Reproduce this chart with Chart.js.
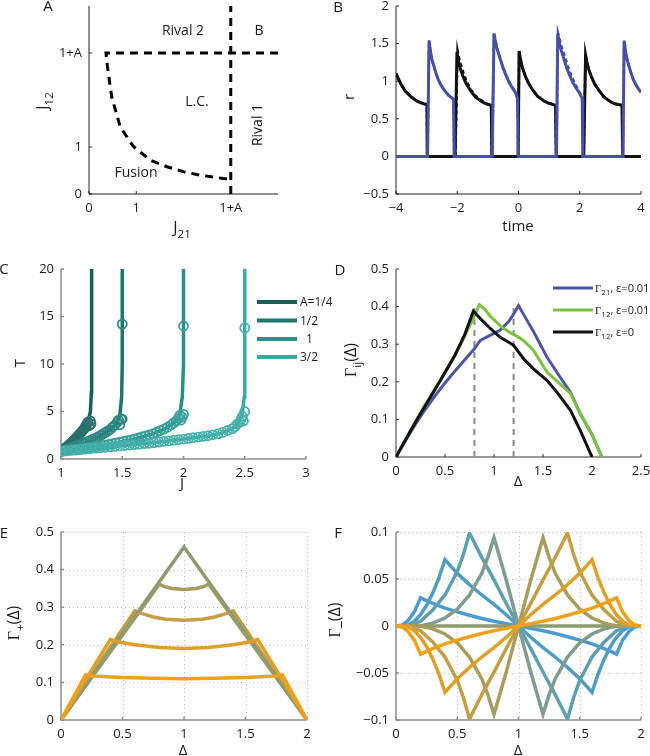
<!DOCTYPE html>
<html><head><meta charset="utf-8">
<script src="https://cdn.jsdelivr.net/npm/chart.js@4/dist/chart.umd.min.js"></script>
<style>
html,body{margin:0;padding:0;background:#fff;}
#wrap{position:relative;width:650px;height:756px;overflow:hidden;background:#fff;}
canvas{position:absolute;left:0;top:0;}
</style></head><body><div id="wrap">
<canvas id="cA" width="650" height="756"></canvas>
<canvas id="cB" width="650" height="756"></canvas>
<canvas id="cC" width="650" height="756"></canvas>
<canvas id="cD" width="650" height="756"></canvas>
<canvas id="cE" width="650" height="756"></canvas>
<canvas id="cF" width="650" height="756"></canvas>
</div>
<script>
// ================= DATA =================
// Panel A
const aTickVals = [0, 1, 3];
const aTickLabels = ['0', '1', '1+A'];
const aCurveJ21 = [4, 0.36, 0.39, 0.48, 0.66, 0.94, 1.30, 1.65, 2.01, 2.36, 2.84, 3.0];
const aCurveJ12 = [3, 3.0, 2.71, 2.07, 1.43, 1.01, 0.72, 0.58, 0.47, 0.40, 0.33, 0.32];
const aVertJ21 = [3, 3];
const aVertJ12 = [0, 4];
const aRegionNames = ['Rival 2', 'B', 'L.C.', 'Fusion', 'Rival 1'];

// Panel B
const bXTicks = [-4, -2, 0, 2, 4];
const bXLabels = ['\u22124', '\u22122', '0', '2', '4'];
const bYTicks = [-0.5, 0, 0.5, 1, 1.5, 2];
const bYLabels = ['\u22120.5', '0', '0.5', '1', '1.5', '2'];
const bBlackT = [-4,-3.85,-3.7,-3.5,-3.3,-3.1,-2.99,-2.98,
  -2.07,-2.01,-1.96,-1.91,-1.81,-1.71,-1.56,-1.41,-1.21,-1.06,-0.89,-0.87,
  -0.01,0.02,0.07,0.12,0.22,0.32,0.47,0.62,0.82,0.97,1.21,1.23,
  2.13,2.19,2.24,2.29,2.39,2.49,2.64,2.79,2.99,3.14,3.38,3.40,
  4.0];
const bBlackR = [1.10,0.97,0.87,0.79,0.73,0.70,0.69,0,
  0,1.39,1.27,1.18,1.06,0.97,0.87,0.79,0.73,0.70,0.68,0,
  0,1.40,1.28,1.19,1.07,0.98,0.88,0.80,0.74,0.71,0.68,0,
  0,1.35,1.24,1.16,1.05,0.96,0.87,0.79,0.73,0.70,0.68,0,
  0];
const bBlackDashT = [-4,-3.85,-3.7,-3.5,-3.3,-3.1,-2.99,-2.98,
  -2.06,-1.99,-1.94,-1.89,-1.79,-1.69,-1.54,-1.39,-1.19,-1.04,-0.89,-0.87,
  -0.01,0.02,0.07,0.12,0.22,0.32,0.47,0.62,0.82,0.97,1.21,1.23,
  2.13,2.19,2.24,2.29,2.39,2.49,2.64,2.79,2.99,3.14,3.38,3.40,
  4.0];
const bBlackDashR = [1.10,0.97,0.87,0.79,0.73,0.70,0.69,0,
  0,1.41,1.31,1.23,1.10,0.99,0.88,0.80,0.74,0.70,0.68,0,
  0,1.40,1.28,1.19,1.07,0.98,0.88,0.80,0.74,0.71,0.68,0,
  0,1.35,1.24,1.16,1.05,0.96,0.87,0.79,0.73,0.70,0.68,0,
  0];
const bBlueT = [-4,-2.97,-2.92,-2.87,-2.82,-2.72,-2.62,-2.52,-2.42,-2.29,-2.12,-2.10,
  -0.86,-0.80,-0.75,-0.70,-0.60,-0.50,-0.40,-0.30,-0.20,-0.10,-0.03,-0.01,
  1.24,1.28,1.33,1.38,1.48,1.58,1.68,1.78,1.88,1.98,2.08,2.10,
  3.41,3.45,3.50,3.55,3.65,3.75,3.85,3.95,4.0];
const bBlueR = [0,0,1.54,1.38,1.28,1.14,1.02,0.94,0.88,0.815,0.76,0,
  0,1.63,1.52,1.43,1.30,1.17,1.07,0.98,0.91,0.85,0.77,0,
  0,1.63,1.52,1.43,1.30,1.17,1.07,0.98,0.91,0.85,0.77,0,
  0,1.54,1.38,1.28,1.14,1.02,0.94,0.88,0.85];
const bBlueDashT = [-4,-2.97,-2.92,-2.87,-2.82,-2.72,-2.62,-2.52,-2.42,-2.29,-2.12,-2.10,
  -0.86,-0.80,-0.75,-0.70,-0.60,-0.50,-0.40,-0.30,-0.20,-0.10,-0.03,-0.01,
  1.24,1.29,1.35,1.41,1.52,1.62,1.72,1.82,1.92,2.00,2.08,2.10,
  3.41,3.45,3.50,3.55,3.65,3.75,3.85,3.95,4.0];
const bBlueDashR = [0,0,1.54,1.38,1.28,1.14,1.02,0.94,0.88,0.815,0.76,0,
  0,1.65,1.53,1.44,1.31,1.18,1.08,0.99,0.92,0.86,0.77,0,
  0,1.64,1.55,1.46,1.32,1.19,1.08,0.99,0.91,0.85,0.78,0,
  0,1.54,1.38,1.28,1.14,1.02,0.94,0.88,0.85];

// Panel C
const cXTicks = [1, 1.5, 2, 2.5, 3];
const cXLabels = ['1', '1.5', '2', '2.5', '3'];
const cYTicks = [0, 5, 10, 15, 20];
const cYLabels = ['0', '5', '10', '15', '20'];
const cSeriesNames = ['A=1/4', '1/2', '1', '3/2'];
const cJ1 = [1,1.05,1.1,1.15,1.19,1.22,1.24,1.248,1.25,1.25];
const cT1 = [0.8,1.3,1.9,2.6,3.2,3.9,5,7,10,20];
const cJ2 = [1,1.1,1.2,1.3,1.4,1.45,1.48,1.495,1.5,1.5];
const cT2 = [0.8,1.25,1.75,2.3,3.1,3.7,4.6,6.5,10,20];
const cJ3 = [1,1.2,1.4,1.6,1.75,1.85,1.93,1.97,1.99,2,2];
const cT3 = [0.8,1.15,1.55,2.1,2.65,3.2,3.9,4.8,6.5,10,20];
const cJ4 = [1,1.25,1.5,1.75,2.0,2.2,2.3,2.4,2.45,2.48,2.495,2.5,2.5];
const cT4 = [0.8,1.1,1.4,1.7,2.1,2.45,2.7,3.2,3.9,4.8,6.5,10,20];
const cSimJ1 = [1.00,1.01,1.02,1.03,1.04,1.05,1.06,1.07,1.08,1.09,1.10,1.11,1.12,1.13,1.14,1.15,1.16,1.17,1.18,1.19,1.20,1.21,1.22,1.23,1.24,1.245];
const cSimT1 = [0.80,0.90,1.00,1.10,1.20,1.30,1.42,1.54,1.66,1.78,1.90,2.04,2.18,2.32,2.46,2.60,2.75,2.90,3.05,3.20,3.43,3.66,3.90,3.5,4.0,3.7];
const cSimJ2 = [1.00,1.02,1.04,1.06,1.08,1.10,1.12,1.14,1.16,1.18,1.20,1.22,1.24,1.26,1.28,1.30,1.32,1.34,1.36,1.38,1.40,1.42,1.44,1.46,1.47,1.48,1.49,1.5,1.5];
const cSimT2 = [0.80,0.89,0.98,1.07,1.16,1.25,1.35,1.45,1.55,1.65,1.75,1.86,1.97,2.08,2.19,2.30,2.46,2.62,2.78,2.94,3.10,3.34,3.58,3.9,4.1,3.6,4.2,4.2,14.2];
const cSimJ3 = [1.00,1.03,1.06,1.09,1.12,1.15,1.18,1.21,1.24,1.27,1.30,1.33,1.36,1.39,1.42,1.45,1.48,1.51,1.54,1.57,1.60,1.63,1.66,1.69,1.72,1.75,1.78,1.81,1.84,1.87,1.90,1.92,1.94,1.96,1.97,1.98,1.99,2,2];
const cSimT3 = [0.80,0.85,0.90,0.96,1.01,1.06,1.12,1.17,1.23,1.29,1.35,1.41,1.47,1.53,1.61,1.69,1.77,1.85,1.93,2.02,2.10,2.21,2.32,2.43,2.54,2.65,2.82,2.98,3.15,3.35,3.60,3.8,4.0,4.3,4.6,4.1,4.4,4.7,14.0];
const cSimJ4 = [1.00,1.04,1.08,1.12,1.16,1.20,1.24,1.28,1.32,1.36,1.40,1.44,1.48,1.52,1.56,1.60,1.64,1.68,1.72,1.76,1.80,1.84,1.88,1.92,1.96,2.00,2.04,2.08,2.12,2.16,2.20,2.24,2.28,2.32,2.36,2.40,2.42,2.44,2.46,2.47,2.48,2.49,2.5,2.5];
const cSimT4 = [0.80,0.85,0.90,0.94,0.99,1.04,1.09,1.14,1.18,1.23,1.28,1.33,1.38,1.42,1.47,1.52,1.57,1.62,1.66,1.72,1.78,1.85,1.91,1.98,2.04,2.10,2.17,2.24,2.31,2.38,2.45,2.55,2.65,2.80,3.00,3.20,3.4,3.7,3.9,4.2,4.5,4.0,5.0,13.8];

// Panel D
const dXTicks = [0, 0.5, 1, 1.5, 2, 2.5];
const dXLabels = ['0', '0.5', '1', '1.5', '2', '2.5'];
const dYTicks = [0, 0.1, 0.2, 0.3, 0.4, 0.5];
const dYLabels = ['0', '0.1', '0.2', '0.3', '0.4', '0.5'];
const dBlueX = [0,0.1,0.2,0.3,0.4,0.5,0.6,0.7,0.8,0.86,0.95,1.06,1.15,1.2,1.25,1.3,1.4,1.54,1.65,1.78,1.88,2.0,2.1];
const dBlueY = [0,0.045,0.088,0.127,0.163,0.197,0.228,0.258,0.288,0.31,0.322,0.337,0.36,0.38,0.403,0.38,0.335,0.266,0.222,0.172,0.115,0.06,0];
const dGreenX = [0,0.1,0.2,0.3,0.4,0.5,0.6,0.7,0.8,0.85,0.9,0.96,1.06,1.15,1.25,1.3,1.4,1.54,1.65,1.78,1.88,2.0,2.1];
const dGreenY = [0,0.048,0.095,0.14,0.182,0.225,0.27,0.32,0.375,0.405,0.395,0.375,0.35,0.333,0.319,0.31,0.285,0.226,0.2,0.169,0.115,0.06,0];
const dBlackX = [0,0.1,0.2,0.3,0.4,0.5,0.6,0.7,0.79,0.86,0.95,1.06,1.15,1.2,1.3,1.4,1.54,1.65,1.78,1.88,2.0];
const dBlackY = [0,0.047,0.093,0.137,0.18,0.225,0.27,0.325,0.388,0.368,0.345,0.319,0.305,0.297,0.262,0.235,0.204,0.17,0.124,0.071,0];
const dMarkX = [0.8, 1.2];
const dMarkTop = 0.4;
const dSeriesNames = [['21', ', \u03b5=0.01'], ['12', ', \u03b5=0.01'], ['12', ', \u03b5=0']];

// Panel E
const eXTicks = [0, 0.5, 1, 1.5, 2];
const eXLabels = ['0', '0.5', '1', '1.5', '2'];
const eYTicks = [0, 0.1, 0.2, 0.3, 0.4, 0.5];
const eYLabels = ['0', '0.1', '0.2', '0.3', '0.4', '0.5'];
const eX1 = [0,1,2];
const eY1 = [0,0.46,0];
const eX2 = [0,0.8,0.84,0.9,1.0,1.1,1.16,1.2,2];
const eY2 = [0,0.361,0.355,0.35,0.347,0.35,0.355,0.361,0];
const eX3 = [0,0.6,0.66,0.75,0.85,1.0,1.15,1.25,1.34,1.4,2];
const eY3 = [0,0.29,0.283,0.274,0.268,0.265,0.268,0.274,0.283,0.29,0];
const eX4 = [0,0.4,0.46,0.6,0.8,1.0,1.2,1.4,1.54,1.6,2];
const eY4 = [0,0.214,0.208,0.2,0.193,0.19,0.193,0.2,0.208,0.214,0];
const eX5 = [0,0.2,0.26,0.5,0.75,1.0,1.25,1.5,1.74,1.8,2];
const eY5 = [0,0.12,0.117,0.113,0.111,0.11,0.111,0.113,0.117,0.12,0];

// Panel F
const fXTicks = [0, 0.5, 1, 1.5, 2];
const fXLabels = ['0', '0.5', '1', '1.5', '2'];
const fYTicks = [-0.1, -0.05, 0, 0.05, 0.1];
const fYLabels = ['\u22120.1', '\u22120.05', '0', '0.05', '0.1'];
const fX1 = [0,0.05,0.1,0.15,0.2,0.3,0.4,0.5,0.6,0.7,0.8,0.9,1.0,1.1,1.2,1.3,1.4,1.5,1.6,1.7,1.8,1.85,1.9,1.95,2];
const fY1 = [0,0.001,0.006,0.015,0.03,0.024,0.019,0.015,0.0114,0.008,0.005,0.0025,0,-0.0025,-0.005,-0.008,-0.0114,-0.015,-0.019,-0.024,-0.03,-0.015,-0.006,-0.001,0];
const fX2 = [0,0.1,0.15,0.2,0.25,0.3,0.35,0.4,0.5,0.6,0.7,0.8,0.9,1.0,1.1,1.2,1.3,1.4,1.5,1.6,1.65,1.7,1.75,1.8,1.85,1.9,2];
const fY2 = [0,0.001,0.005,0.012,0.022,0.035,0.051,0.0705,0.056,0.044,0.033,0.023,0.012,0,-0.012,-0.023,-0.033,-0.044,-0.056,-0.0705,-0.051,-0.035,-0.022,-0.012,-0.005,-0.001,0];
const fX3 = [0,0.1,0.2,0.3,0.4,0.5,0.55,0.6,0.7,0.8,0.9,1.0,1.1,1.2,1.3,1.4,1.45,1.5,1.6,1.7,1.8,1.9,2];
const fY3 = [0,0,0.005,0.017,0.033,0.058,0.076,0.099,0.073,0.049,0.024,0,-0.024,-0.049,-0.073,-0.099,-0.076,-0.058,-0.033,-0.017,-0.005,0,0];
const fX4 = [0,0.2,0.3,0.4,0.5,0.6,0.7,0.75,0.8,0.9,1.0,1.1,1.2,1.25,1.3,1.4,1.5,1.6,1.7,1.8,2];
const fY4 = [0,0,0.003,0.0085,0.018,0.033,0.056,0.073,0.094,0.049,0,-0.049,-0.094,-0.073,-0.056,-0.033,-0.018,-0.0085,-0.003,0,0];
const fX5 = [0,2];
const fY5 = [0,0];
const fY6 = [0,0,-0.003,-0.0085,-0.018,-0.033,-0.056,-0.073,-0.094,-0.049,0,0.049,0.094,0.073,0.056,0.033,0.018,0.0085,0.003,0,0];
const fY7 = [0,0,-0.005,-0.017,-0.033,-0.058,-0.076,-0.099,-0.073,-0.049,-0.024,0,0.024,0.049,0.073,0.099,0.076,0.058,0.033,0.017,0.005,0,0];
const fY8 = [0,-0.001,-0.005,-0.012,-0.022,-0.035,-0.051,-0.0705,-0.056,-0.044,-0.033,-0.023,-0.012,0,0.012,0.023,0.033,0.044,0.056,0.0705,0.051,0.035,0.022,0.012,0.005,0.001,0];
const fY9 = [0,-0.001,-0.006,-0.015,-0.03,-0.024,-0.019,-0.015,-0.0114,-0.008,-0.005,-0.0025,0,0.0025,0.005,0.008,0.0114,0.015,0.019,0.024,0.03,0.015,0.006,0.001,0];

// ================= STYLE / LAYOUT =================
const SANS = "'Open Sans', 'DejaVu Sans', sans-serif";
const SERIF = "'Liberation Serif', 'DejaVu Serif', serif";
const TXT = '#1a1a1a';
Chart.defaults.font.family = SANS;
Chart.defaults.font.size = 13;
Chart.defaults.color = TXT;
const YW = 50, XH = 30, PW = 650, PH = 756;

const bBlack = '#111111', bBlue = '#4650a8';
const cCols = ['#1b5d5a', '#1f7570', '#29908a', '#3aaba5'];
const cCircle = ['#2a716d', '#2e8782', '#3aa09a', '#47b1ab'];
const dBlue = '#4e56a8', dGreen = '#7cc242', dBlack = '#111111';
const famCols = ['#4a9bd1', '#4f9dc6', '#5e9fb2', '#7e9d8f', '#8e9b71', '#a99c5c', '#c49d44', '#dfa02b', '#efa11a'];

function pts(xs, ys) { return xs.map((x, i) => ({x: x, y: ys[i]})); }
function ln(xs, ys, color, extra) {
  return Object.assign({data: pts(xs, ys), showLine: true, borderColor: color, backgroundColor: color,
    borderWidth: 3, pointRadius: 0, fill: false, tension: 0}, extra || {});
}

function richText(ctx, parts, x, y, o) {
  o = o || {};
  const size = o.size || 14, rot = o.rot || 0, align = o.align || 'center';
  ctx.save();
  ctx.translate(x, y); ctx.rotate(rot);
  ctx.fillStyle = o.color || TXT;
  ctx.textBaseline = 'alphabetic'; ctx.textAlign = 'left';
  let w = 0;
  const items = parts.map(p => {
    const fs = p.sub ? size * 0.72 : size;
    const font = fs + 'px ' + (p.serif ? SERIF : SANS);
    ctx.font = font;
    const mw = ctx.measureText(p.t).width;
    const it = {t: p.t, font: font, off: w, dy: p.sub ? size * 0.32 : 0};
    w += mw;
    return it;
  });
  const x0 = align === 'center' ? -w / 2 : 0;
  const base = size * 0.36;
  items.forEach(it => { ctx.font = it.font; ctx.fillText(it.t, x0 + it.off, base + it.dy); });
  ctx.restore();
}

function deco(d) {
  return {
    id: 'deco',
    beforeDatasetsDraw(chart) {
      const ctx = chart.ctx, a = chart.chartArea, sx = chart.scales.x, sy = chart.scales.y;
      ctx.save();
      if (d.grid) {
        ctx.strokeStyle = '#bdbdbd'; ctx.lineWidth = 1; ctx.setLineDash([1, 3]);
        sx.ticks.forEach(t => { if (t.value === sx.min) return; const p = Math.round(sx.getPixelForValue(t.value)) + 0.5;
          ctx.beginPath(); ctx.moveTo(p, a.top); ctx.lineTo(p, a.bottom); ctx.stroke(); });
        sy.ticks.forEach(t => { if (t.value === sy.min) return; const p = Math.round(sy.getPixelForValue(t.value)) + 0.5;
          ctx.beginPath(); ctx.moveTo(a.left, p); ctx.lineTo(a.right, p); ctx.stroke(); });
        ctx.setLineDash([]);
      }
      ctx.strokeStyle = d.axisColor; ctx.lineWidth = d.axisWidth || 1;
      ctx.beginPath(); ctx.moveTo(a.left, a.top); ctx.lineTo(a.left, a.bottom); ctx.lineTo(a.right, a.bottom); ctx.stroke();
      ctx.beginPath();
      sx.ticks.forEach(t => { const p = sx.getPixelForValue(t.value); ctx.moveTo(p, a.bottom); ctx.lineTo(p, a.bottom - 3); });
      sy.ticks.forEach(t => { const p = sy.getPixelForValue(t.value); ctx.moveTo(a.left, p); ctx.lineTo(a.left + 3, p); });
      ctx.stroke();
      ctx.restore();
    },
    afterDatasetsDraw(chart) {
      const ctx = chart.ctx;
      (d.texts || []).forEach(t => richText(ctx, t.parts, t.x, t.y, t));
      if (d.legend) {
        const L = d.legend;
        L.items.forEach(it => {
          ctx.save(); ctx.strokeStyle = it.color; ctx.lineWidth = L.lw;
          ctx.beginPath(); ctx.moveTo(L.x1, it.y); ctx.lineTo(L.x2, it.y); ctx.stroke(); ctx.restore();
          richText(ctx, it.parts, L.tx + (it.dx || 0), it.y, {size: L.size, align: 'left'});
        });
      }
    }
  };
}

function panel(id, o) {
  const mk = (ticks, labels) => ({
    afterBuildTicks: s => { s.ticks = ticks.map(v => ({value: v})); },
    callback: (v, i) => labels[i]
  });
  const xs = mk(o.xTicks, o.xLabels), ys = mk(o.yTicks, o.yLabels);
  return new Chart(document.getElementById(id), {
    type: 'scatter',
    data: {datasets: o.datasets},
    options: {
      responsive: false, animation: false, events: [],
      layout: {padding: {left: o.area.l - YW, right: PW - o.area.r, top: o.area.t, bottom: PH - o.area.b - XH}},
      plugins: {legend: {display: false}, tooltip: {enabled: false}},
      scales: {
        x: {type: 'linear', min: o.xMin, max: o.xMax, grid: {display: false, drawTicks: false}, border: {display: false},
            afterBuildTicks: xs.afterBuildTicks,
            afterFit: s => { s.height = XH; s.paddingLeft = 0; s.paddingRight = 0; },
            ticks: {autoSkip: false, maxRotation: 0, minRotation: 0, padding: 6, callback: xs.callback}},
        y: {type: 'linear', min: o.yMin, max: o.yMax, grid: {display: false, drawTicks: false}, border: {display: false},
            afterBuildTicks: ys.afterBuildTicks,
            afterFit: s => { s.width = YW; s.paddingTop = 0; s.paddingBottom = 0; },
            ticks: {autoSkip: false, padding: 7, callback: ys.callback}}
      }
    },
    plugins: [deco(o.deco)]
  });
}

const ROT = -Math.PI / 2;

// ---------- A ----------
panel('cA', {
  area: {l: 89, r: 278, t: 6, b: 194}, xMin: 0, xMax: 4, yMin: 0, yMax: 4,
  xTicks: aTickVals, xLabels: aTickLabels, yTicks: aTickVals, yLabels: aTickLabels,
  datasets: [
    ln(aCurveJ21, aCurveJ12, '#000', {borderDash: [8, 6], borderWidth: 3}),
    ln(aVertJ21, aVertJ12, '#000', {borderDash: [8, 6], borderWidth: 3})
  ],
  deco: {axisColor: '#222', texts: [
    {parts: [{t: 'A'}], x: 48, y: 6, size: 15},
    {parts: [{t: 'J'}, {t: '12', sub: 1}], x: 42, y: 101, rot: ROT, size: 16},
    {parts: [{t: 'J'}, {t: '21', sub: 1}], x: 182, y: 227, size: 16},
    {parts: [{t: aRegionNames[0]}], x: 183, y: 30, size: 14},
    {parts: [{t: aRegionNames[1]}], x: 259, y: 30, size: 14},
    {parts: [{t: aRegionNames[2]}], x: 197, y: 101, size: 14},
    {parts: [{t: aRegionNames[3]}], x: 136, y: 172, size: 14},
    {parts: [{t: aRegionNames[4]}], x: 257, y: 125, rot: ROT, size: 14}
  ]}
});

// ---------- B ----------
panel('cB', {
  area: {l: 396, r: 641, t: 6, b: 194}, xMin: -4, xMax: 4, yMin: -0.5, yMax: 2,
  xTicks: bXTicks, xLabels: bXLabels, yTicks: bYTicks, yLabels: bYLabels,
  datasets: [
    ln(bBlueDashT, bBlueDashR, bBlue, {borderDash: [4, 3], borderWidth: 2.5, order: 0}),
    ln(bBlueT, bBlueR, bBlue, {order: 1}),
    ln(bBlackDashT, bBlackDashR, bBlack, {borderDash: [4, 3], borderWidth: 2.5, order: 2}),
    ln(bBlackT, bBlackR, bBlack, {order: 3})
  ],
  deco: {axisColor: '#222', texts: [
    {parts: [{t: 'B'}], x: 338, y: 7, size: 15},
    {parts: [{t: 'r'}], x: 349, y: 97, rot: ROT, size: 15},
    {parts: [{t: 'time'}], x: 518, y: 226, size: 15}
  ]}
});

// ---------- C ----------
const cLines = [[cJ1, cT1], [cJ2, cT2], [cJ3, cT3], [cJ4, cT4]];
const cSims = [[cSimJ1, cSimT1], [cSimJ2, cSimT2], [cSimJ3, cSimT3], [cSimJ4, cSimT4]];
const cDatasets = [];
cLines.forEach((p, i) => cDatasets.push(ln(p[0], p[1], cCols[i], {borderWidth: 3.5, order: 10 - 2 * i})));
cSims.forEach((p, i) => cDatasets.push({data: pts(p[0], p[1]), showLine: false, pointRadius: 4.5, pointBorderWidth: 1.8,
  pointBorderColor: cCircle[i], pointBackgroundColor: 'rgba(0,0,0,0)', order: 9 - 2 * i}));
const cLegY = [302, 320.5, 339, 357];
panel('cC', {
  area: {l: 61, r: 306, t: 269, b: 459}, xMin: 1, xMax: 3, yMin: 0, yMax: 20,
  xTicks: cXTicks, xLabels: cXLabels, yTicks: cYTicks, yLabels: cYLabels,
  datasets: cDatasets,
  deco: {axisColor: '#8c8c8c', axisWidth: 1.5, texts: [
    {parts: [{t: 'C'}], x: 4, y: 269, size: 15},
    {parts: [{t: 'T'}], x: 20, y: 363, rot: ROT, size: 15},
    {parts: [{t: 'J'}], x: 182, y: 483, size: 15}
  ], legend: {x1: 257, x2: 297, tx: 300, lw: 4, size: 12,
    items: cSeriesNames.map((n, i) => ({y: cLegY[i], color: cCols[i], dx: n === '1' ? 6 : 0, parts: [{t: n}]}))}}
});

// ---------- D ----------
const dLegCols = [dBlue, dGreen, dBlack];
const dLegY = [288, 310, 332];
panel('cD', {
  area: {l: 396, r: 641, t: 269, b: 457}, xMin: 0, xMax: 2.5, yMin: 0, yMax: 0.5,
  xTicks: dXTicks, xLabels: dXLabels, yTicks: dYTicks, yLabels: dYLabels,
  datasets: [
    ln(dBlackX, dBlackY, dBlack, {order: 0}),
    ln(dGreenX, dGreenY, dGreen, {order: 1}),
    ln(dBlueX, dBlueY, dBlue, {order: 2}),
    ln([dMarkX[0], dMarkX[0]], [0, dMarkTop], '#8a8a8a', {borderDash: [6, 5], borderWidth: 2, order: 3}),
    ln([dMarkX[1], dMarkX[1]], [0, dMarkTop], '#8a8a8a', {borderDash: [6, 5], borderWidth: 2, order: 4})
  ],
  deco: {axisColor: '#333', texts: [
    {parts: [{t: 'D'}], x: 340, y: 270, size: 15},
    {parts: [{t: '\u0393', serif: 1}, {t: 'ij', sub: 1}, {t: '(\u0394)'}], x: 350, y: 360, rot: ROT, size: 16},
    {parts: [{t: '\u0394'}], x: 518, y: 481, size: 15}
  ], legend: {x1: 553, x2: 593, tx: 595, lw: 3, size: 11,
    items: dSeriesNames.map((n, i) => ({y: dLegY[i], color: dLegCols[i],
      parts: [{t: '\u0393', serif: 1}, {t: n[0], sub: 1}, {t: n[1]}]}))}}
});

// ---------- E ----------
panel('cE', {
  area: {l: 61, r: 307, t: 532, b: 720}, xMin: 0, xMax: 2, yMin: 0, yMax: 0.5,
  xTicks: eXTicks, xLabels: eXLabels, yTicks: eYTicks, yLabels: eYLabels,
  datasets: [
    ln(eX5, eY5, famCols[8], {borderWidth: 3.5, order: 0}),
    ln(eX4, eY4, famCols[7], {borderWidth: 3.5, order: 1}),
    ln(eX1, eY1, famCols[4], {borderWidth: 3.5, order: 2}),
    ln(eX3, eY3, famCols[6], {borderWidth: 3.5, order: 3}),
    ln(eX2, eY2, famCols[5], {borderWidth: 3.5, order: 4})
  ],
  deco: {axisColor: '#8c8c8c', axisWidth: 1.5, grid: true, texts: [
    {parts: [{t: 'E'}], x: 4, y: 533, size: 15},
    {parts: [{t: '\u0393', serif: 1}, {t: '+', sub: 1}, {t: '(\u0394)'}], x: 13, y: 623, rot: ROT, size: 16},
    {parts: [{t: '\u0394'}], x: 183, y: 750, size: 15}
  ]}
});

// ---------- F ----------
const fSets = [[fX1, fY1], [fX2, fY2], [fX3, fY3], [fX4, fY4], [fX5, fY5], [fX4, fY6], [fX3, fY7], [fX2, fY8], [fX1, fY9]];
panel('cF', {
  area: {l: 396, r: 641, t: 532, b: 720}, xMin: 0, xMax: 2, yMin: -0.1, yMax: 0.1,
  xTicks: fXTicks, xLabels: fXLabels, yTicks: fYTicks, yLabels: fYLabels,
  datasets: fSets.map((p, i) => ln(p[0], p[1], famCols[i], {borderWidth: 3.5, order: 8 - i})),
  deco: {axisColor: '#8c8c8c', axisWidth: 1.5, grid: true, texts: [
    {parts: [{t: 'F'}], x: 338, y: 533, size: 15},
    {parts: [{t: '\u0393', serif: 1}, {t: '_'}, {t: '(\u0394)'}], x: 334, y: 620, rot: ROT, size: 16},
    {parts: [{t: '\u0394'}], x: 518, y: 750, size: 15}
  ]}
});
</script>
</body></html>
